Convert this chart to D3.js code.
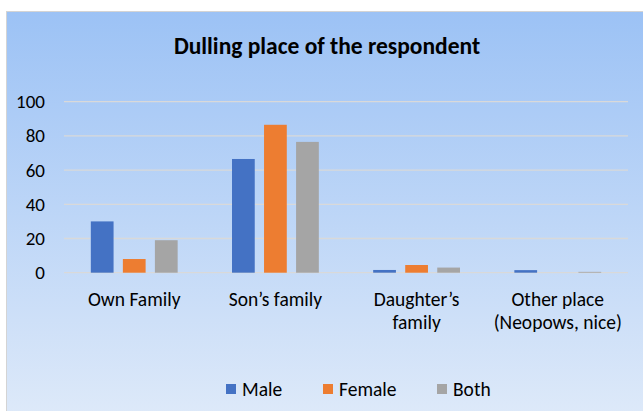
<!DOCTYPE html>
<html>
<head>
<meta charset="utf-8">
<script src="https://cdn.jsdelivr.net/npm/d3@7"></script>
<style>
  body { margin: 0; background: #ffffff; }
  svg { display: block; font-family: Carlito, Lato, "Open Sans", sans-serif; }
</style>
</head>
<body>
<svg width="643" height="411"></svg>
<script>
var categories = [["Own Family"], ["Son\u2019s family"], ["Daughter\u2019s", "family"], ["Other place", "(Neopows, nice)"]];
var seriesNames = ["Male", "Female", "Both"];
var male = [30, 66.5, 1.6, 1.5];
var female = [8, 86.5, 4.5, 0];
var both = [19, 76.5, 3, 0.5];
var yTicks = [0, 20, 40, 60, 80, 100];

var colors = ["#4472c4", "#ed7d31", "#a5a5a5"];
var series = [male, female, both];

var svg = d3.select('svg');

var defs = svg.append('defs');
var grad = defs.append('linearGradient')
  .attr('id', 'bg')
  .attr('x1', 0).attr('y1', 0).attr('x2', 0).attr('y2', 1);
grad.append('stop').attr('offset', '0%').attr('stop-color', '#9cc2f5');
grad.append('stop').attr('offset', '100%').attr('stop-color', '#dde9f9');

svg.append('rect')
   .attr('x', 6.5).attr('y', 11.5)
   .attr('width', 640).attr('height', 402)
   .attr('fill', 'url(#bg)')
   .attr('stroke', '#d4d4d4')
   .attr('stroke-width', 1);

svg.append('text')
   .attr('x', 327).attr('y', 54)
   .attr('text-anchor', 'middle')
   .attr('font-size', 23.5)
   .attr('font-weight', 'bold')
   .attr('fill', '#000000')
   .text('Dulling place of the respondent');

var plotLeft = 64, plotRight = 628, plotTop = 101.7, plotBottom = 272.7;

var x0 = d3.scaleBand()
  .domain(d3.range(categories.length))
  .range([plotLeft, plotRight])
  .paddingInner(0.385)
  .paddingOuter(0.19);

var x1 = d3.scaleBand()
  .domain(d3.range(seriesNames.length))
  .range([0, x0.bandwidth()])
  .paddingInner(0.29);

var y = d3.scaleLinear().domain([0, 100]).range([plotBottom, plotTop]);

// gridlines
svg.append('g')
   .selectAll('line')
   .data(yTicks)
   .enter()
   .append('line')
   .attr('x1', plotLeft).attr('x2', plotRight)
   .attr('y1', function (d) { return y(d); })
   .attr('y2', function (d) { return y(d); })
   .attr('stroke', '#d9d9d9')
   .attr('stroke-width', 1.3);

// y labels
svg.append('g')
   .selectAll('text')
   .data(yTicks)
   .enter()
   .append('text')
   .attr('x', 45)
   .attr('y', function (d) { return y(d) + 6.5; })
   .attr('text-anchor', 'end')
   .attr('font-size', 19)
   .attr('fill', '#000000')
   .text(function (d) { return d; });

// bars
for (var s = 0; s < series.length; s++) {
  svg.append('g')
     .selectAll('rect')
     .data(series[s])
     .enter()
     .append('rect')
     .attr('x', function (d, i) { return x0(i) + x1(s); })
     .attr('y', function (d) { return y(d); })
     .attr('width', x1.bandwidth())
     .attr('height', function (d) { return plotBottom - y(d); })
     .attr('fill', colors[s]);
}

// category labels
var cat = svg.append('g')
  .selectAll('text')
  .data(categories)
  .enter()
  .append('text')
  .attr('text-anchor', 'middle')
  .attr('font-size', 19.5)
  .attr('fill', '#000000');
cat.each(function (lines, i) {
  var t = d3.select(this);
  lines.forEach(function (ln, j) {
    t.append('tspan')
     .attr('x', x0(i) + x0.bandwidth() / 2)
     .attr('y', 306 + j * 23)
     .text(ln);
  });
});

// legend
var legendX = [226, 323, 437];
var legend = svg.append('g')
  .selectAll('g')
  .data(seriesNames)
  .enter()
  .append('g')
  .attr('transform', function (d, i) { return 'translate(' + legendX[i] + ',384)'; });
legend.append('rect')
  .attr('width', 10).attr('height', 10)
  .attr('fill', function (d, i) { return colors[i]; });
legend.append('text')
  .attr('x', 16).attr('y', 12)
  .attr('font-size', 19.5)
  .attr('fill', '#000000')
  .text(function (d) { return d; });
</script>
</body>
</html>
